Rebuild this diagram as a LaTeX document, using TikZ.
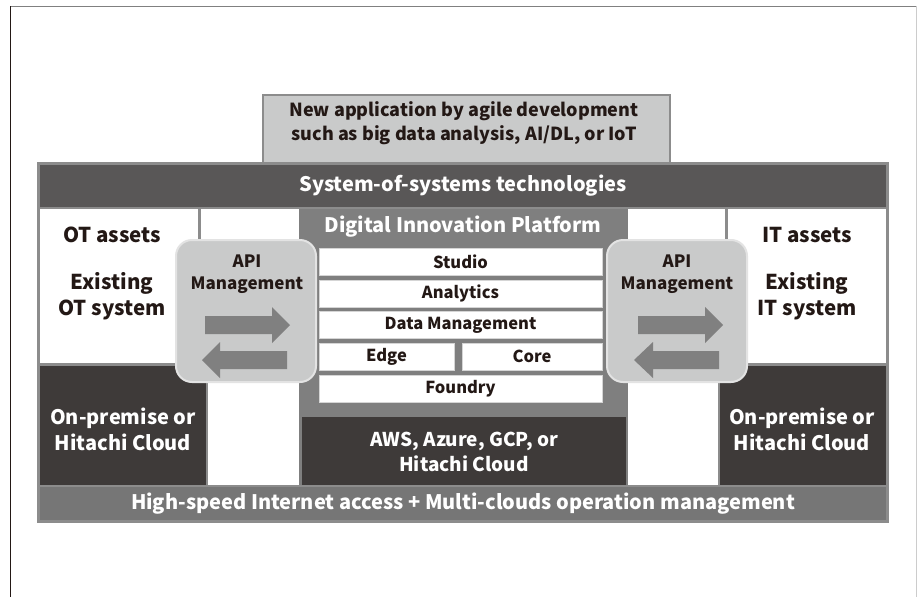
\documentclass[tikz,border=0pt]{standalone}
\usepackage{fontspec}
\setmainfont{Noto Sans CJK JP}
\usepackage{tikz}
\usetikzlibrary{positioning}
\definecolor{txtblack}{HTML}{231815}
\definecolor{framegray}{HTML}{8C8C8C}
\definecolor{sosgray}{HTML}{595757}
\definecolor{netgray}{HTML}{767676}
\definecolor{dipgray}{HTML}{7F7F7F}
\definecolor{darkbox}{HTML}{3E3A39}
\definecolor{apifill}{HTML}{C9CACA}
\definecolor{apiline}{HTML}{E3E3E3}
\definecolor{arrowgray}{HTML}{808080}
\definecolor{layerline}{HTML}{D5D5D5}
\tikzset{lbl/.style={font=\bfseries\fontsize{18}{24}\selectfont,align=center,text=txtblack}}
\tikzset{wlbl/.style={lbl,text=white}}
\tikzset{biglbl/.style={lbl,font=\bfseries\fontsize{20.5}{26}\selectfont}}
\tikzset{apilbl/.style={lbl,font=\bfseries\fontsize{17}{22}\selectfont}}
\tikzset{layer/.style={fill=white,draw=layerline,line width=1pt,minimum height=27pt,inner sep=0pt,font=\bfseries\fontsize{16.5}{20}\selectfont,text=txtblack}}
\tikzset{apibox/.style={fill=apifill,draw=apiline,line width=2pt,rounded corners=16pt}}

\begin{document}
\begin{tikzpicture}[x={(1pt,0)},y={(0,-1pt)}]
\useasboundingbox (0,0) rectangle (917,597);
% outer frame of the page
\draw[gray,line width=1.5pt] (10,6.5) -- (917,6.5);
\draw[txtblack,line width=1pt] (10.5,6) -- (10.5,597);
\draw[black!20,line width=1pt] (916,6) -- (916,597);

% top application box
\filldraw[fill=apifill,draw=framegray,line width=2.5pt] (263,95) rectangle (670,163);
\node[lbl] (app) at (464,123) {New application by agile development\\such as big data analysis, AI/DL, or IoT};

% whole platform block
\fill[framegray] (37,162) rectangle (889,523);
\fill[sosgray] (40,165) rectangle (886,207);
\fill[white] (40,209) rectangle (198,363);
\fill[white] (201,209) rectangle (299,485);
\filldraw[fill=darkbox,draw=framegray,line width=2pt] (39,365) rectangle (207,486);
\fill[dipgray] (299,209) rectangle (628,485);
\fill[darkbox] (302,417) rectangle (626,485);
\fill[white] (628,209) rectangle (725,485);
\fill[white] (728,209) rectangle (886,363);
\filldraw[fill=darkbox,draw=framegray,line width=2pt] (719,365) rectangle (887,486);
\fill[netgray] (40,487) rectangle (886,520);

\node[wlbl,font=\bfseries\fontsize{20}{24}\selectfont] (sos) at (463,186) {System-of-systems technologies};
\node[wlbl,font=\bfseries\fontsize{20}{24}\selectfont] (net) at (463,504) {High-speed Internet access + Multi-clouds operation management};

% OT and IT side
\node[biglbl] (otassets) at (112,235) {OT assets};
\node[biglbl] (otsys) at (112,296) {Existing\\OT system};
\node[biglbl] (itassets) at (807,235) {IT assets};
\node[biglbl] (itsys) at (807,296) {Existing\\IT system};
\node[wlbl,font=\bfseries\fontsize{20}{26}\selectfont] (onpremL) at (123,429) {On-premise or\\Hitachi Cloud};
\node[wlbl,font=\bfseries\fontsize{20}{26}\selectfont] (onpremR) at (802,429) {On-premise or\\Hitachi Cloud};

% Digital Innovation Platform
\node[wlbl,font=\bfseries\fontsize{20}{24}\selectfont] (dip) at (463,227) {Digital Innovation Platform};
\node[layer,minimum width=283pt] (studio) at (460.5,262) {Studio};
\node[layer,minimum width=283pt] (analytics) at (460.5,293.5) {Analytics};
\node[layer,minimum width=283pt] (datamgmt) at (460.5,325) {Data Management};
\node[layer,minimum width=135pt] (edge) at (386.5,356.5) {Edge};
\node[layer,minimum width=140pt] (core) at (532,356.5) {Core};
\node[layer,minimum width=283pt] (foundry) at (460.5,388.5) {Foundry};
\node[wlbl,font=\bfseries\fontsize{19}{25}\selectfont] (aws) at (464,452) {AWS, Azure, GCP, or\\Hitachi Cloud};

% API management boxes
\draw[apibox] (176,240) rectangle (316,382);
\node[apilbl] (apiL) at (247,274) {API\\Management};
\fill[arrowgray] (205,316) -- (272,316) -- (272,307) -- (290,325) -- (272,343) -- (272,334) -- (205,334) -- cycle;
\fill[arrowgray] (287,351) -- (220,351) -- (220,342) -- (202,360) -- (220,378) -- (220,369) -- (287,369) -- cycle;

\draw[apibox] (607,240) rectangle (747,382);
\node[apilbl] (apiR) at (677,274) {API\\Management};
\fill[arrowgray] (638,316) -- (705,316) -- (705,307) -- (723,325) -- (705,343) -- (705,334) -- (638,334) -- cycle;
\fill[arrowgray] (719,351) -- (653,351) -- (653,342) -- (634,360) -- (653,378) -- (653,369) -- (719,369) -- cycle;
\end{tikzpicture}
\end{document}
